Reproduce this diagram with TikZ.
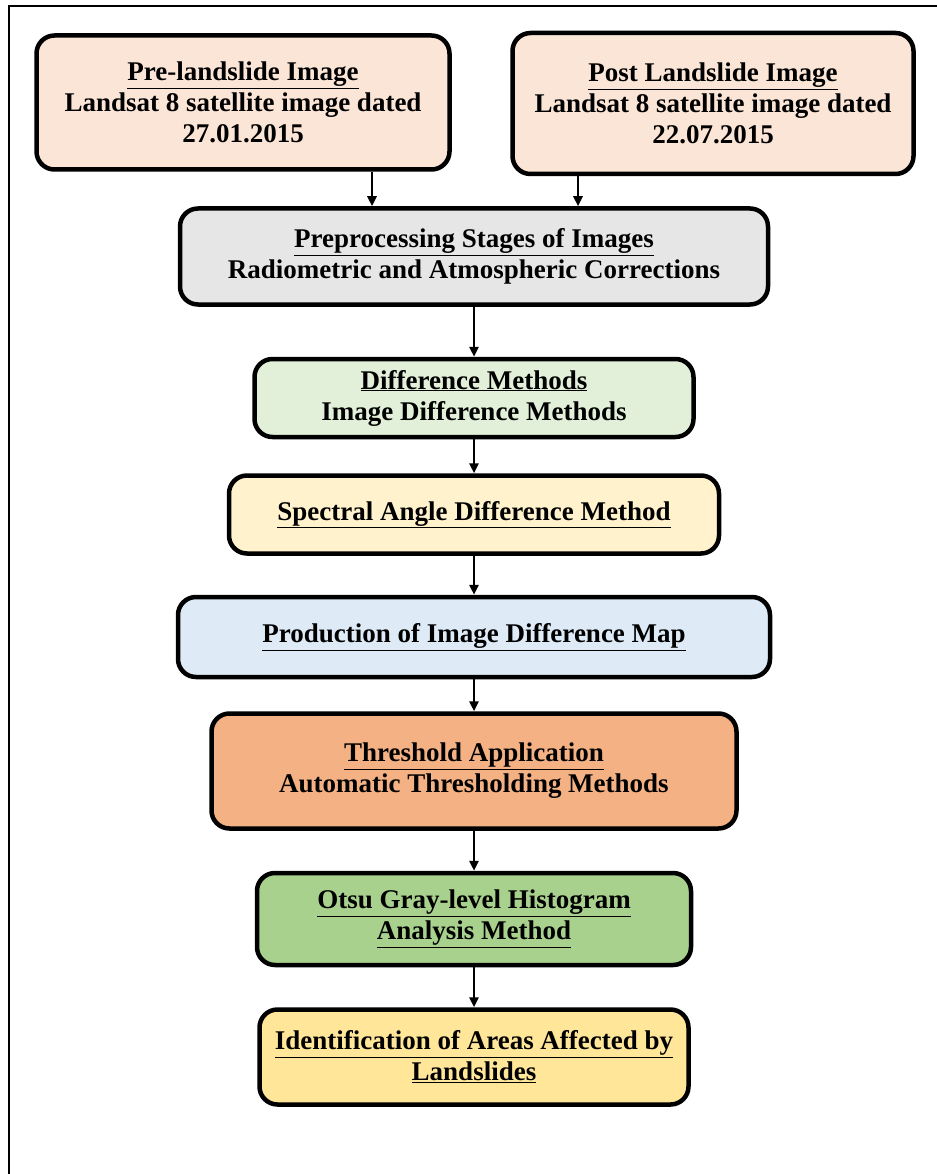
\documentclass[tikz,border=0pt]{standalone}
\usepackage{fontspec}
\setmainfont{Liberation Serif}
\usetikzlibrary{arrows.meta,positioning}

\definecolor{peach}{HTML}{FBE5D6}
\definecolor{lightgray}{HTML}{E6E6E6}
\definecolor{palegreen}{HTML}{E2F0D9}
\definecolor{paleyellow}{HTML}{FFF2CC}
\definecolor{paleblue}{HTML}{DEEBF7}
\definecolor{orangemid}{HTML}{F4B183}
\definecolor{greenmid}{HTML}{A9D18E}
\definecolor{goldmid}{HTML}{FFE699}

\begin{document}
\begin{tikzpicture}[x=1pt,y=-1pt,node distance=40pt,>={Triangle[length=10pt,width=9pt]}]

    \tikzstyle{box}=[draw,line width=4.5pt,rounded corners=18pt,align=center,
                     font=\bfseries\fontsize{27}{31}\selectfont]
    \tikzstyle{link}=[->,line width=2.5pt]

    \useasboundingbox (0,0) rectangle (936,1174);
    \draw[line width=2pt] (9,1180) -- (9,6) -- (940,6);

    \node[box,fill=peach,minimum width=413pt,minimum height=134pt] (pre) at (243,102.5)
        {\underline{Pre-landslide Image}\\Landsat 8 satellite image dated\\27.01.2015};
    \node[box,fill=peach,minimum width=401pt,minimum height=141pt] (post) at (713,103.5)
        {\underline{Post Landslide Image}\\Landsat 8 satellite image dated\\22.07.2015};
    \node[box,fill=lightgray,minimum width=588pt,minimum height=96pt] (prep) at (474,256.5)
        {\underline{Preprocessing Stages of Images}\\Radiometric and Atmospheric Corrections};
    \node[box,fill=palegreen,minimum width=439pt,minimum height=78pt] (diff) [below=50pt of prep]
        {\underline{Difference Methods}\\Image Difference Methods};
    \node[box,fill=paleyellow,minimum width=490pt,minimum height=78pt] (sad) [below=34pt of diff]
        {\underline{Spectral Angle Difference Method}};
    \node[box,fill=paleblue,minimum width=592pt,minimum height=80pt] (map) [below=39pt of sad]
        {\underline{Production of Image Difference Map}};
    \node[box,fill=orangemid,minimum width=525pt,minimum height=115pt] (thr) [below=32pt of map]
        {\underline{Threshold Application}\\Automatic Thresholding Methods};
    \node[box,fill=greenmid,minimum width=434pt,minimum height=92pt] (otsu) [below=40pt of thr]
        {\underline{Otsu Gray-level Histogram}\\\underline{Analysis Method}};
    \node[box,fill=goldmid,minimum width=429pt,minimum height=95pt] (ident) [below=40pt of otsu]
        {\underline{Identification of Areas Affected by}\\\underline{Landslides}};

    \coordinate (lj) at (372,0);
    \coordinate (rj) at (578,0);

    \draw[link] (lj |- pre.south) -- (lj |- prep.north);
    \draw[link] (rj |- post.south) -- (rj |- prep.north);
    \draw[link] (prep) -- (diff);
    \draw[link] (diff) -- (sad);
    \draw[link] (sad) -- (map);
    \draw[link] (map) -- (thr);
    \draw[link] (thr) -- (otsu);
    \draw[link] (otsu) -- (ident);
\end{tikzpicture}
\end{document}
